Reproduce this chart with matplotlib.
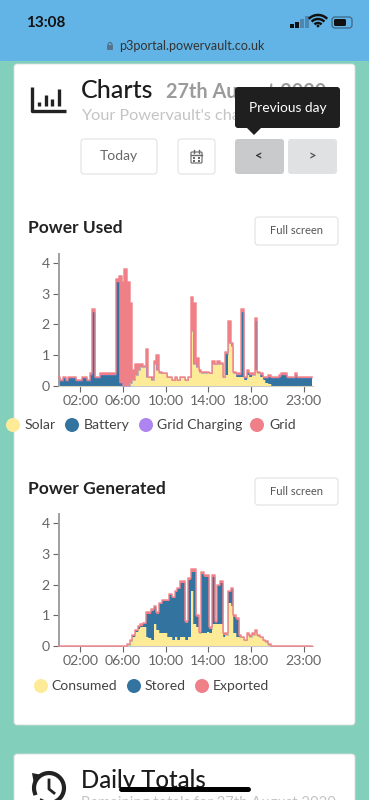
import numpy as np
import matplotlib
matplotlib.use("Agg")
import matplotlib.pyplot as plt
from matplotlib.patches import Rectangle, FancyBboxPatch, Circle, Polygon

plt.rcParams['font.family'] = ['Lato', 'DejaVu Sans']

#=================== data, one value per 15 minutes, one row per hour ============
hours = np.arange(96) * 0.25
tick_hours = [2, 6, 10, 14, 18, 23]
tick_labels = ["02:00", "06:00", "10:00", "14:00", "18:00", "23:00"]
y_ticks = [0, 1, 2, 3, 4]

solar = [0] * 24 + [
    0, 0, 0, .1,
    .2, .35, .5, .6,
    .6, .3, .3, .2,
    .7, .5, .4, .4,
    .4, .3, .3, .2,
    .3, .2, .3, .3,
    .2, .3, 1.8, .7,
    .6, .45, .4, .4,
    .45, .4, .7, .7,
    .7, .7, .3, .35,
    1.4, 1.3, .4, .3,
    .3, .3, .2, .35,
    .3, .35, .5, .4,
    .3, .2, .1, .05,
] + [0] * 16
battery = [
    .25, .15, .25, .15,
    .25, .25, .25, .15,
    .15, .25, .25, .15,
    .35, 2.4, .25, .25,
    .35, .35, .35, .35,
    .35, .35, 3.4, .1,
] + [0] * 36 + [
    0, 0, 0, .7,
    0, 0, 0, .05,
    .05, 2.1, .05, .1,
    .05, 0, 1.6, 0,
    .05, .05, .15, .25,
    .25, .25, .25, .3,
    .35, .35, .25, .25,
    .25, .35, .25, .25,
    .25, .25, .25, .25,
]
grid_charging = [0] * 96
grid = [.05] * 12 + [
    .05, .1, .05, .05,
    .05, .05, .05, .05,
    .05, .05, .1, 3.5,
    3.4, 3.8, 3.4, 2.6,
    .3, .35, .2, .1,
    .05, .9, 0, .1,
    .1, .5, .05, 0,
    0, 0, 0, 0,
    0, 0, 0, 0,
    0, 0, 1.1, 2.0,
    .3, .05, .05, .05,
    0, 0, .1, 0,
    .1, .05, 0, .05,
    .7, .1, .05, .05,
    .05, .1, .05, .05,
    .05, .05, .1, .05,
] + [.05] * 20

consumed = [0] * 24 + [
    0, 0, .03, .15,
    .3, .45, .55, .6,
    .6, .3, .25, .2,
    .7, .5, .4, .4,
    .4, .3, .3, .2,
    .3, .2, .3, .3,
    .2, .3, 1.8, .7,
    .6, .4, .4, .4,
    .45, .4, .7, .7,
    .7, .7, .3, .35,
    1.4, 1.3, .4, .3,
    .3, .27, .18, .35,
    .3, .35, .45, .33,
    .27, .18, .13, .03,
] + [0] * 16
stored = [0] * 28 + [
    .03, .03, .05, .05,
    .1, .75, .8, .95,
    .55, .55, .95, 1.05,
    1.05, 1.15, 1.35, 1.35,
    1.45, 1.65, 1.75, 1.75,
    .55, 1.85, .6, 1.7,
    .35, .03, 1.95, 1.85,
    1.8, .15, 1.55, .05,
    1.25, 1.35, .05, 0,
    .35, .55, .55, .55,
] + [0] * 28
exported = [0] * 26 + [.02, .05] + [
    .02, .02, .05, .05,
    .05, .05, .05, .05,
    .05, .05, .05, .05,
    .05, .05, .05, .05,
    .05, .05, .05, .05,
    .05, .05, .1, .1,
    .05, .02, .05, .05,
    .05, .05, .05, .05,
    .05, .05, .05, .05,
    .05, .05, .05, .05,
    .05, .03, .02, .05,
    .05, .05, .05, .02,
    .03, .02, .02, .02,
] + [0] * 16

YELLOW = "#FDEB98"
BLUE = "#33739F"
PURPLE = "#AE84F0"
PINK = "#F08088"
TEAL = "#82D0BC"
DARK = "#222222"
#=================================================================================

fig = plt.figure(figsize=(3.69, 8), dpi=100)
page = fig.add_axes([0, 0, 1, 1])
page.set_xlim(0, 369)
page.set_ylim(800, 0)
page.axis("off")


def box(x0, y0, x1, y1, color, edge="none", r=3, z=1, lw=0.8):
    page.add_patch(FancyBboxPatch((x0 + r, y0 + r), x1 - x0 - 2 * r, y1 - y0 - 2 * r,
                                  boxstyle="round,pad=%g,rounding_size=%g" % (r, r),
                                  fc=color, ec=edge, lw=lw, zorder=z))


def label(x, y, s, size, color=DARK, weight="normal", ha="left", z=5):
    page.text(x, y, s, fontsize=size, color=color, fontweight=weight, ha=ha, va="center", zorder=z)


# background, status bar, cards
page.add_patch(Rectangle((0, 0), 369, 800, fc=TEAL, ec="none", zorder=0))
page.add_patch(Rectangle((0, 0), 369, 61, fc="#63B4E6", ec="none", zorder=0.5))
box(14, 64, 355, 725, "white", edge="#DADADA", lw=0.6)
box(14, 754, 355, 812, "white", edge="#DADADA", lw=0.6)

label(26, 23, "13:08", 11, color="#111111", weight="bold")
for i, h in enumerate([4, 6, 9, 12]):
    page.add_patch(Rectangle((290 + i * 5, 27.5 - h), 3.5, h, fc="#111111" if i < 2 else "#4F86AD", ec="none", zorder=3))
for r, lw in [(13, 1.8), (9, 1.8), (5, 1.8)]:
    t = np.radians(np.linspace(225, 315, 20))
    page.plot(318 + r * np.cos(t), 28 + r * np.sin(t), color="#111111", lw=lw, solid_capstyle="butt", zorder=3)
page.add_patch(Circle((318, 26), 1.4, fc="#111111", ec="none", zorder=3))
box(332, 17, 352, 28, "none", edge="#3E6F92", r=3, z=3, lw=1)
box(334, 19, 346, 26, "#111111", r=1.5, z=3)
box(107, 45, 113, 50, "#55738A", r=1, z=3)
t = np.radians(np.linspace(180, 360, 12))
page.plot(110 + 2 * np.cos(t), 45 + 2.5 * np.sin(t), color="#55738A", lw=0.9, zorder=3)
label(119, 46, "p3portal.powervault.co.uk", 9.1, color="#333333")

# charts header
page.plot([32, 32, 66], [87, 111, 111], color=DARK, lw=2.4, zorder=3, solid_capstyle="butt")
for x, top in [(39, 102), (46, 95), (52, 99), (59, 89)]:
    page.plot([x, x], [top, 106], color=DARK, lw=2.4, zorder=3, solid_capstyle="butt")
label(81, 90, "Charts", 18, weight="medium", color="#1C1C1C")
label(166, 92, "27th August 2020", 14.3, color="#9B9B9B", weight="bold")
label(81, 116, "Your Powervault's charts", 11.7, color="#C4C4C4")

box(81, 139, 157, 174, "white", edge="#E2E2E2")
label(119, 156, "Today", 10, color="#666666", ha="center")
box(178, 139, 215, 174, "white", edge="#E2E2E2")
box(191, 152, 202, 163, "none", edge="#666666", r=1, z=3)
page.plot([191, 202], [155, 155], color="#666666", lw=1, zorder=3)
for x in [194, 199]:
    page.plot([x, x], [150, 153], color="#666666", lw=1, zorder=3)
    for y in [158, 161]:
        page.add_patch(Rectangle((x - 1, y - 0.7), 2, 1.4, fc="#666666", ec="none", zorder=3))
box(235, 139, 284, 174, "#C8CACC")
box(288, 139, 337, 174, "#E0E1E3")
label(259, 156, "<", 9.5, color="#333333", weight="bold", ha="center")
label(312, 156, ">", 9.5, color="#555555", weight="bold", ha="center")

box(235, 87, 340, 128, "#1E1F1E", z=6)
page.add_patch(Polygon([[247, 128], [261, 128], [254, 135]], fc="#1E1F1E", ec="none", zorder=6))
label(288, 108, "Previous day", 9.9, color="white", ha="center", z=7)

# section titles and full screen buttons
label(28, 228, "Power Used", 12.5, weight="bold")
label(28, 489, "Power Generated", 12.6, weight="bold")
for y0, y1 in [(217, 245), (478, 505)]:
    box(255, y0, 338, y1, "white", edge="#E2E2E2")
    label(296, (y0 + y1) / 2, "Full screen", 8, color="#555555", ha="center")

# legends
for x, tx, name, c in [(13, 25, "Solar", YELLOW), (72, 84, "Battery", BLUE),
                       (146, 157, "Grid Charging", PURPLE), (257, 269, "Grid", PINK)]:
    page.add_patch(Circle((x, 425), 7, fc=c, ec="none", zorder=3))
    label(tx, 425, name, 10.1, color="#444444")
for x, tx, name, c in [(41, 51, "Consumed", YELLOW), (134, 145, "Stored", BLUE), (202, 213, "Exported", PINK)]:
    page.add_patch(Circle((x, 686), 7, fc=c, ec="none", zorder=3))
    label(tx, 686, name, 10.1, color="#444444")

# daily totals, cut off by the bottom of the screen
t = np.radians(np.linspace(-200, 120, 40))
page.plot(49 + 15 * np.cos(t), 788 + 15 * np.sin(t), color=DARK, lw=3, zorder=3)
page.add_patch(Polygon([[32, 773], [42, 775], [34, 784]], fc=DARK, ec="none", zorder=3))
page.plot([49, 49, 54], [780, 789, 793], color=DARK, lw=2, zorder=3)
label(81, 780, "Daily Totals", 17.2, weight="medium", color="#1C1C1C")
label(81, 803, "Remaining totals for 27th August 2020", 10.7, color="#C4C4C4")
page.plot([121, 248], [789, 789], color="black", lw=3.6, solid_capstyle="round", zorder=8)


def draw_chart(y0_px, series, colors):
    ax = fig.add_axes([59 / 369, 1 - y0_px / 800, 254 / 369, 131.7 / 800])
    ax.patch.set_alpha(0)
    ax.set_xlim(0, 254 / 10.65)
    ax.set_ylim(0, 131.7 / 30.6)
    base = np.zeros(96)
    for vals, c in zip(series, colors):
        top = base + np.array(vals, dtype=float)
        ax.fill_between(hours, base, top, color=c, lw=0, step="mid", zorder=2)
        base = top
    # only the top layer gets a full stroke, the lower ones stay faint
    base = np.zeros(96)
    for i, (vals, c) in enumerate(zip(series, colors)):
        base = base + np.array(vals, dtype=float)
        last = i == len(series) - 1
        ax.plot(hours, base, color=c, lw=1.2 if last else 0.4, alpha=0.85 if last else 0.5,
                drawstyle="steps-mid", zorder=3, clip_on=False)
    for s in ["top", "right"]:
        ax.spines[s].set_visible(False)
    ax.spines["left"].set_color("#A0A0A0")
    ax.spines["left"].set_linewidth(1.4)
    ax.spines["bottom"].set_color("#C9C9C9")
    ax.spines["bottom"].set_linewidth(0.8)
    ax.set_xticks(tick_hours)
    ax.set_xticklabels(tick_labels)
    ax.set_yticks(y_ticks)
    ax.tick_params(axis="both", colors="#666666", labelsize=10.2, length=4, width=0.8, pad=2.5)
    return ax


draw_chart(385.7, [solar, battery, grid_charging, grid], [YELLOW, BLUE, PURPLE, PINK])
draw_chart(645.7, [consumed, stored, exported], [YELLOW, BLUE, PINK])

plt.savefig("out.png", dpi=100)
